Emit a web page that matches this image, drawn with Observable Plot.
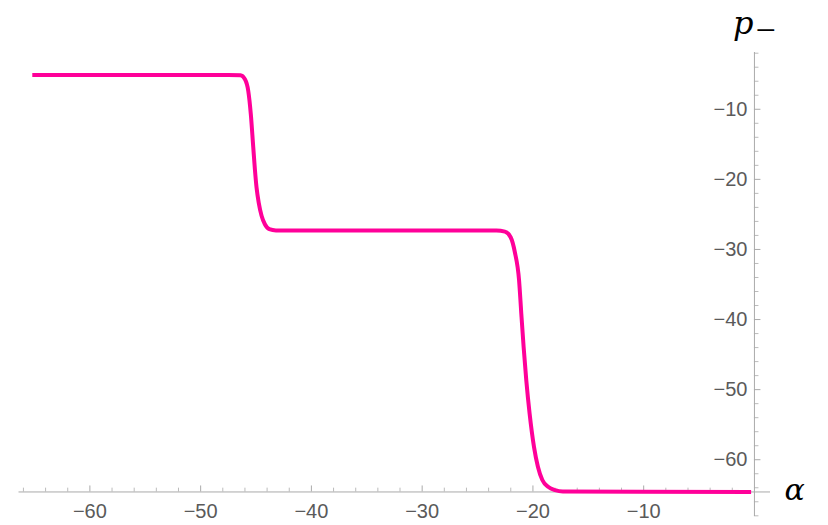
<!DOCTYPE html>
<html>
<head>
<meta charset="utf-8">
<script src="https://cdn.jsdelivr.net/npm/d3@7"></script>
<script src="https://cdn.jsdelivr.net/npm/@observablehq/plot@0.6"></script>
<style>
  html, body { margin: 0; padding: 0; background: #fff; }
  #chart { width: 828px; height: 525px; }
</style>
</head>
<body>
<div id="chart"></div>
<script>
// ---- data ----
const alphaValues = [-65.2, -47.5, -46.4, -46.0, -45.7, -45.47, -45.25, -45.1, -44.95, -44.75, -44.5, -44.2, -43.8, -43.2,
                     -23.3, -22.53, -22.01, -21.63, -21.25, -21.05, -20.84, -20.6, -20.3, -19.9, -19.55, -19.15, -18.6, -18.0, -17.3, -0.3];
const pValues     = [-5.1, -5.1, -5.15, -5.72, -7.39, -10.71, -15.42, -18.6, -21.2, -23.4, -25.2, -26.4, -27.1, -27.28,
                     -27.3, -27.45, -28.26, -30.4, -34.4, -39.14, -43.9, -48.66, -53.4, -58.2, -61.0, -62.9, -63.9, -64.35, -64.55, -64.6];
const xMajorTicks = [-60, -50, -40, -30, -20, -10];
const xMinorTicks = [-66, -64, -62, -58, -56, -54, -52, -48, -46, -44, -42, -38, -36, -34, -32, -28, -26, -24, -22, -18, -16, -14, -12, -8, -6, -4, -2];
const yMajorTicks = [-10, -20, -30, -40, -50, -60];
const yMinorTicks = [-2, -4, -6, -8, -12, -14, -16, -18, -22, -24, -26, -28, -32, -34, -36, -38, -42, -44, -46, -48, -52, -54, -56, -58, -62, -64, -66, -68];
const xAxisAt = -64.6;   // value of p where the horizontal axis crosses
const yAxisAt = 0;       // value of alpha where the vertical axis crosses
const xDomain = [-66.4, 1.45];
const yDomain = [-68.1, -1.9];
const xLabel = "α";
const yLabel = "p";
const yLabelSub = "−";

// ---- layout ----
const W = 828, H = 525;
const mL = 18.5, mR = 58, mT = 52, mB = 9;
const ppx = (W - mL - mR) / (xDomain[1] - xDomain[0]);
const ppy = (H - mT - mB) / (yDomain[1] - yDomain[0]);
const axisColor = "#aaaaaa";
const labelColor = "#5a5a5a";
const curveColor = "#ff0099";
const sans = "Liberation Sans, Arial, sans-serif";
const serif = "DejaVu Serif, serif";
const fmt = d => (d < 0 ? "\u2212" : "") + Math.abs(d);

const curve = alphaValues.map((a, i) => ({alpha: a, p: pValues[i]}));

const chart = Plot.plot({
  width: W, height: H,
  marginLeft: mL, marginRight: mR, marginTop: mT, marginBottom: mB,
  x: {domain: xDomain, axis: null},
  y: {domain: yDomain, axis: null},
  style: {background: "#fff", overflow: "visible"},
  marks: [
    // axes
    Plot.ruleY([xAxisAt], {stroke: axisColor, strokeWidth: 1}),
    Plot.ruleX([yAxisAt], {stroke: axisColor, strokeWidth: 1}),
    // x ticks (upward)
    Plot.ruleX(xMajorTicks, {y1: xAxisAt, y2: xAxisAt + 6 / ppy, stroke: axisColor, strokeWidth: 1}),
    Plot.ruleX(xMinorTicks, {y1: xAxisAt, y2: xAxisAt + 3.8 / ppy, stroke: axisColor, strokeWidth: 0.8}),
    // y ticks (rightward)
    Plot.ruleY(yMajorTicks, {x1: yAxisAt, x2: yAxisAt + 6.5 / ppx, stroke: axisColor, strokeWidth: 1}),
    Plot.ruleY(yMinorTicks, {x1: yAxisAt, x2: yAxisAt + 4.5 / ppx, stroke: axisColor, strokeWidth: 0.8}),
    // tick labels
    Plot.text(xMajorTicks, {x: d => d, y: xAxisAt, text: fmt, dy: 20, fill: labelColor,
      fontSize: 20, fontFamily: sans, textAnchor: "middle", lineAnchor: "middle"}),
    Plot.text(yMajorTicks, {x: yAxisAt, y: d => d, text: fmt, dx: -7, fill: labelColor,
      fontSize: 20, fontFamily: sans, textAnchor: "end", lineAnchor: "middle"}),
    // curve
    Plot.line(curve, {x: "alpha", y: "p", stroke: curveColor, strokeWidth: 4, curve: "monotone-x", strokeLinecap: "butt"}),
    // axis labels
    Plot.text([xLabel], {x: xDomain[1], y: xAxisAt, text: d => d, dx: 14, dy: -1.6, textAnchor: "start", lineAnchor: "middle",
      fontSize: 30, fontStyle: "italic", fontFamily: serif, fill: "#000"}),
    Plot.text([yLabel], {x: yAxisAt, y: yDomain[1], text: d => d, dx: -1, dy: -29, textAnchor: "end", lineAnchor: "middle",
      fontSize: 32, fontStyle: "italic", fontFamily: serif, fill: "#000"}),
    Plot.text([yLabelSub], {x: yAxisAt, y: yDomain[1], text: d => d, dx: 1, dy: -22.5, textAnchor: "start", lineAnchor: "middle",
      fontSize: 36, fontFamily: "Liberation Serif, serif", fill: "#000"})
  ]
});
document.getElementById("chart").appendChild(chart);
</script>
</body>
</html>
